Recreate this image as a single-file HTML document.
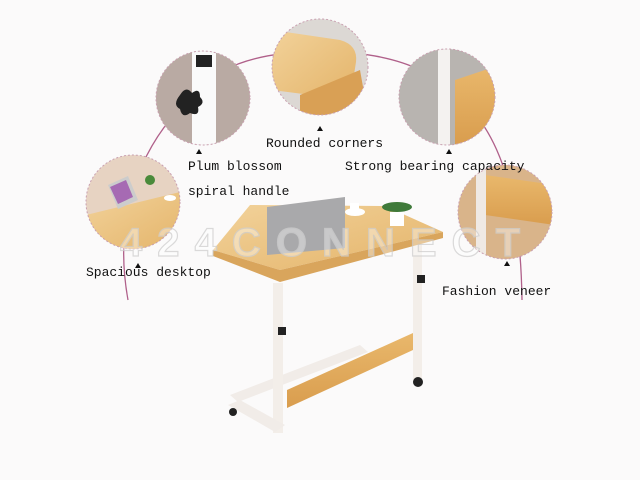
<!DOCTYPE html>
<html><head><style>
html,body{margin:0;padding:0;background:#fff;}
svg{display:block}
text{font-family:"Liberation Mono","DejaVu Sans Mono",monospace;font-size:13px;fill:#111}
</style></head><body>
<svg width="640" height="480" viewBox="0 0 640 480" xmlns="http://www.w3.org/2000/svg">
<defs>
<linearGradient id="wood" x1="0" y1="0" x2="1" y2="1">
<stop offset="0" stop-color="#f2d29a"/><stop offset="1" stop-color="#e4b46a"/></linearGradient>
<linearGradient id="wood2" x1="0" y1="0" x2="0" y2="1">
<stop offset="0" stop-color="#e9b86c"/><stop offset="1" stop-color="#d99d4e"/></linearGradient>
<clipPath id="c1"><circle cx="133" cy="202" r="47"/></clipPath>
<clipPath id="c2"><circle cx="203" cy="98" r="47"/></clipPath>
<clipPath id="c3"><circle cx="320" cy="67" r="48"/></clipPath>
<clipPath id="c4"><circle cx="447" cy="97" r="48"/></clipPath>
<clipPath id="c5"><circle cx="505" cy="212" r="47"/></clipPath>
</defs>
<rect width="640" height="480" fill="#fbfafa"/>
<path d="M128 300 C 110 200 150 120 225 70 C 270 45 370 45 420 70 C 490 105 520 170 522 300" fill="none" stroke="#b0608a" stroke-width="1.3"/>
<g clip-path="url(#c1)">
<rect x="80" y="150" width="110" height="110" fill="#e7d3c2"/>
<polygon points="86,215 180,192 185,250 86,250" fill="url(#wood)"/>
<polygon points="108,185 128,176 138,200 118,209" fill="#ccc"/>
<polygon points="110,187 126,180 133,197 118,204" fill="#a66ab3"/>
<circle cx="150" cy="180" r="5" fill="#4a8a3a"/>
<ellipse cx="170" cy="198" rx="6" ry="3" fill="#fff"/>
</g>
<circle cx="133" cy="202" r="47" fill="none" stroke="#c9a0b0" stroke-width="1" stroke-dasharray="2 2"/>
<g clip-path="url(#c2)">
<rect x="150" y="50" width="110" height="100" fill="#b9aaa3"/>
<rect x="192" y="50" width="24" height="100" fill="#fafafa"/>
<rect x="196" y="55" width="16" height="12" fill="#222"/>
<path d="M180 95 q6 -10 12 -2 q8 -6 8 4 q6 6 -2 10 q2 10 -8 6 q-8 6 -10 -4 q-8 -4 0 -14z" fill="#222"/>
</g>
<circle cx="203" cy="98" r="47" fill="none" stroke="#c9a0b0" stroke-width="1" stroke-dasharray="2 2"/>
<g clip-path="url(#c3)">
<rect x="270" y="18" width="100" height="100" fill="#dcd8d4"/>
<path d="M272 30 L340 40 q18 5 16 22 L350 100 L272 90z" fill="url(#wood)"/>
<polygon points="300,95 360,70 368,115 300,118" fill="#d9a055"/>
</g>
<circle cx="320" cy="67" r="48" fill="none" stroke="#c9a0b0" stroke-width="1" stroke-dasharray="2 2"/>
<g clip-path="url(#c4)">
<rect x="398" y="48" width="100" height="100" fill="#b8b4b0"/>
<polygon points="455,80 500,65 500,145 455,145" fill="url(#wood2)"/>
<rect x="438" y="48" width="12" height="100" fill="#f4f2f0"/>
</g>
<circle cx="447" cy="97" r="48" fill="none" stroke="#c9a0b0" stroke-width="1" stroke-dasharray="2 2"/>
<g clip-path="url(#c5)">
<rect x="455" y="165" width="100" height="100" fill="#d9b48a"/>
<polygon points="485,175 555,185 555,225 485,215" fill="url(#wood2)"/>
<rect x="476" y="165" width="10" height="100" fill="#efe9e4"/>
</g>
<circle cx="505" cy="212" r="47" fill="none" stroke="#c9a0b0" stroke-width="1" stroke-dasharray="2 2"/>
<polygon points="230,395 360,345 368,352 238,402" fill="#f1ece8"/>
<rect x="413" y="240" width="9" height="140" fill="#f3eee9"/>
<circle cx="418" cy="382" r="5" fill="#222"/>
<rect x="273" y="283" width="10" height="150" fill="#f3eee9"/>
<polygon points="228,405 240,400 285,425 275,432" fill="#f1ece8"/>
<circle cx="233" cy="412" r="4" fill="#222"/>
<polygon points="287,390 413,333 413,350 287,408" fill="url(#wood2)"/>
<polygon points="213,250 250,205 385,206 443,232 280,270" fill="url(#wood)"/>
<polygon points="213,250 280,270 443,232 443,238 280,282 213,256" fill="#d9a55c"/>
<polygon points="267,207 345,197 345,248 267,255" fill="#a9a9ab"/>
<ellipse cx="355" cy="212" rx="10" ry="4" fill="#fff"/>
<rect x="350" y="203" width="9" height="9" fill="#fff"/>
<rect x="390" y="212" width="14" height="14" fill="#fff"/>
<ellipse cx="397" cy="207" rx="15" ry="5" fill="#3f7a3a"/>
<rect x="417" y="275" width="8" height="8" fill="#222"/>
<rect x="278" y="327" width="8" height="8" fill="#222"/>
<text x="120" y="256" style="font-family:'Liberation Sans',sans-serif;font-size:40px;font-weight:bold;fill:#fff;fill-opacity:0.5;stroke:#cfcfcf;stroke-width:1.2;opacity:0.75" textLength="400">424CONNECT</text>
<g fill="#111">
<polygon points="317,131 320,126 323,131"/>
<polygon points="196,154 199,149 202,154"/>
<polygon points="446,154 449,149 452,154"/>
<polygon points="135,268 138,263 141,268"/>
<polygon points="504,266 507,261 510,266"/>
</g>
<text x="266" y="147">Rounded corners</text>
<text x="188" y="170">Plum blossom</text>
<text x="188" y="195">spiral handle</text>
<text x="345" y="170">Strong bearing capacity</text>
<text x="86" y="276">Spacious desktop</text>
<text x="442" y="295">Fashion veneer</text>
</svg>
</body></html>
